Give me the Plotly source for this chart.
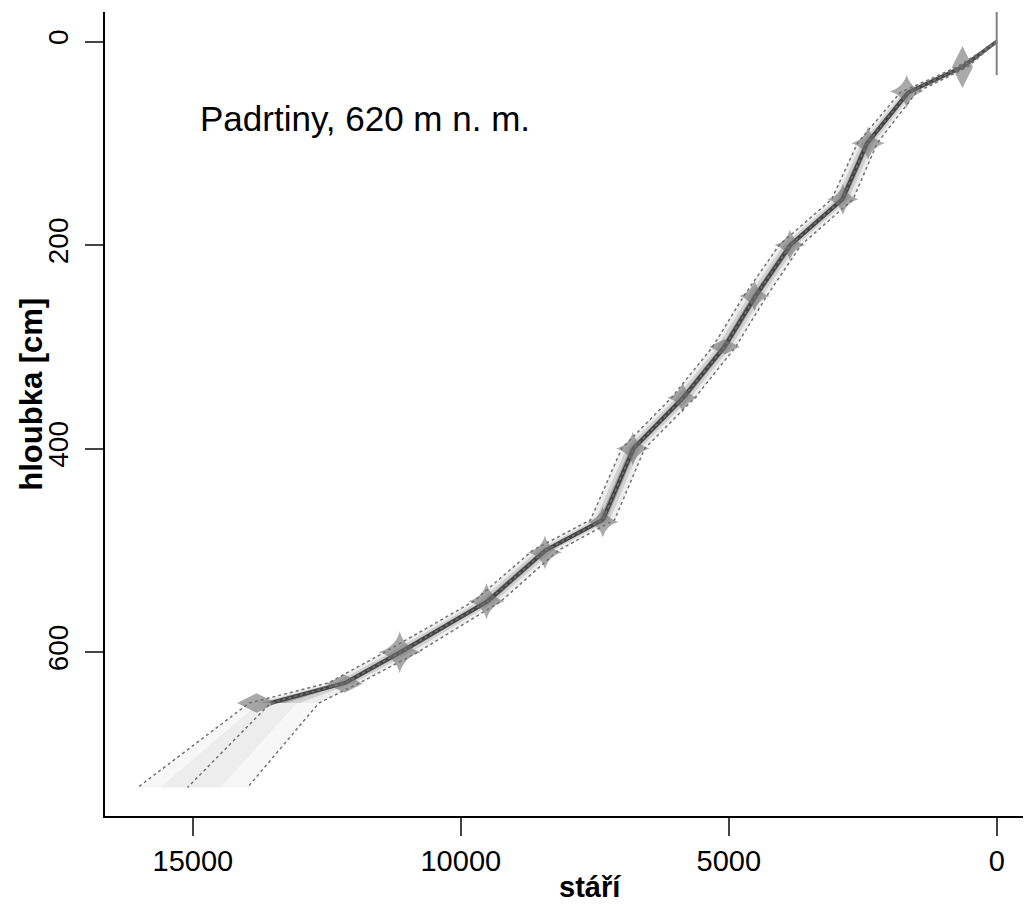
import plotly.graph_objects as go

# age-depth model (depth in cm, age in years)
depth = [0, 25, 50, 100, 155, 200, 250, 300, 350, 400, 470, 500, 550, 600, 630, 650, 733]
age_median = [0, 640, 1650, 2420, 2880, 3850, 4500, 5080, 5850, 6780, 7350, 8420, 9500, 11130, 12150, 13550, 15100]
age_min = [0, 540, 1500, 2230, 2680, 3650, 4290, 4870, 5630, 6570, 7130, 8180, 9250, 10800, 11880, 12650, 13980]
age_max = [0, 740, 1800, 2600, 3080, 4060, 4720, 5300, 6070, 7000, 7580, 8660, 9760, 11420, 12460, 13950, 16030]

# dated levels
date_depth = [25, 49, 100, 155, 200, 250, 300, 350, 400, 472, 502, 550, 600, 631, 650]
date_age = [640, 1680, 2400, 2870, 3860, 4520, 5080, 5860, 6790, 7350, 8430, 9520, 11140, 12170, 13810]
surface_depth = [0]
surface_age = [0]

x_ticks = [0, 5000, 10000, 15000]
y_ticks = [0, 200, 400, 600]

fig = go.Figure()


def band(lo, hi, d, color):
    fig.add_trace(go.Scatter(x=lo, y=d, mode="lines", line=dict(width=0), showlegend=False, hoverinfo="skip"))
    fig.add_trace(go.Scatter(x=hi, y=d, mode="lines", line=dict(width=0), fill="tonextx",
                             fillcolor=color, showlegend=False, hoverinfo="skip"))


def shrink(f, a, b):
    lo = [m - f * (m - x) for m, x in zip(age_median[a:b], age_min[a:b])]
    hi = [m + f * (x - m) for m, x in zip(age_median[a:b], age_max[a:b])]
    return lo, hi


# upper, well dated part: darker grey gradient
top = len(depth) - 1
for f, c in [(1.0, "rgba(0,0,0,0.07)"), (0.6, "rgba(0,0,0,0.12)"), (0.3, "rgba(0,0,0,0.22)")]:
    lo, hi = shrink(f, 0, top)
    band(lo, hi, depth[:top], c)
# extrapolated base: very light
for f, c in [(1.0, "rgba(0,0,0,0.03)"), (0.55, "rgba(0,0,0,0.04)")]:
    lo, hi = shrink(f, top - 1, len(depth))
    band(lo, hi, depth[top - 1:], c)

# core
fig.add_trace(go.Scatter(x=age_median[:top], y=depth[:top], mode="lines",
                         line=dict(color="rgba(45,45,45,0.8)", width=4), showlegend=False))

# dotted ranges + mean
for xs in (age_min, age_max, age_median):
    fig.add_trace(go.Scatter(x=xs, y=depth, mode="lines",
                             line=dict(color="rgb(115,115,115)", width=1.5, dash="dot"),
                             showlegend=False))

# dates
symbols = ["diamond-tall", "star-diamond", "star-diamond", "star-diamond", "star-diamond",
           "star-diamond", "diamond-wide", "star-diamond", "star-diamond", "star-diamond",
           "star-diamond", "star-diamond", "star-diamond", "diamond-wide", "diamond-wide"]
sizes = [30, 24, 24, 22, 22, 22, 22, 22, 24, 22, 24, 26, 30, 26, 28]
fig.add_trace(go.Scatter(x=date_age, y=date_depth, mode="markers",
                         marker=dict(symbol=symbols, size=sizes, color="rgba(110,110,110,0.85)",
                                     line=dict(width=0)),
                         showlegend=False))
fig.add_trace(go.Scatter(x=surface_age, y=surface_depth, mode="markers",
                         marker=dict(symbol="line-ns", size=48,
                                     line=dict(width=2, color="rgb(130,130,130)")),
                         showlegend=False))

fig.add_annotation(text="Padrtiny, 620 m n. m.", xref="paper", yref="paper",
                   x=0.1004, y=0.868, xanchor="left", yanchor="middle", showarrow=False,
                   font=dict(size=35, color="black"))
# axis titles
fig.add_annotation(text="<b>stáří</b>", xref="paper", yref="paper", x=0.524, y=0,
                   yshift=-71, xanchor="center", yanchor="middle", showarrow=False,
                   font=dict(size=29, color="black"))
fig.add_annotation(text="<b>hloubka [cm]</b>", xref="paper", yref="paper", x=0, y=0.524,
                   xshift=-73, textangle=-90, xanchor="center", yanchor="middle", showarrow=False,
                   font=dict(size=31, color="black"))

# page body has an 8px margin, so the figure is drawn 8px smaller
fig.update_layout(
    width=1023, height=897,
    margin=dict(l=97, r=0, t=4, b=89),
    paper_bgcolor="white", plot_bgcolor="white",
    font=dict(family="Liberation Sans, Arial", color="black"),
    xaxis=dict(range=[16640, -640], tickvals=x_ticks, tickformat="d", ticks="outside",
               ticklen=18, tickwidth=2, automargin=False,
               showline=True, linewidth=2, linecolor="black", showgrid=False, zeroline=False,
               tickfont=dict(size=29)),
    yaxis=dict(range=[761, -29], tickvals=y_ticks, ticks="outside", ticklen=18, tickwidth=2,
               automargin=False, ticklabelstandoff=6,
               showline=True, linewidth=2, linecolor="black", showgrid=False, zeroline=False,
               tickangle=-90, tickfont=dict(size=28)),
)

fig.write_html("out.html")
